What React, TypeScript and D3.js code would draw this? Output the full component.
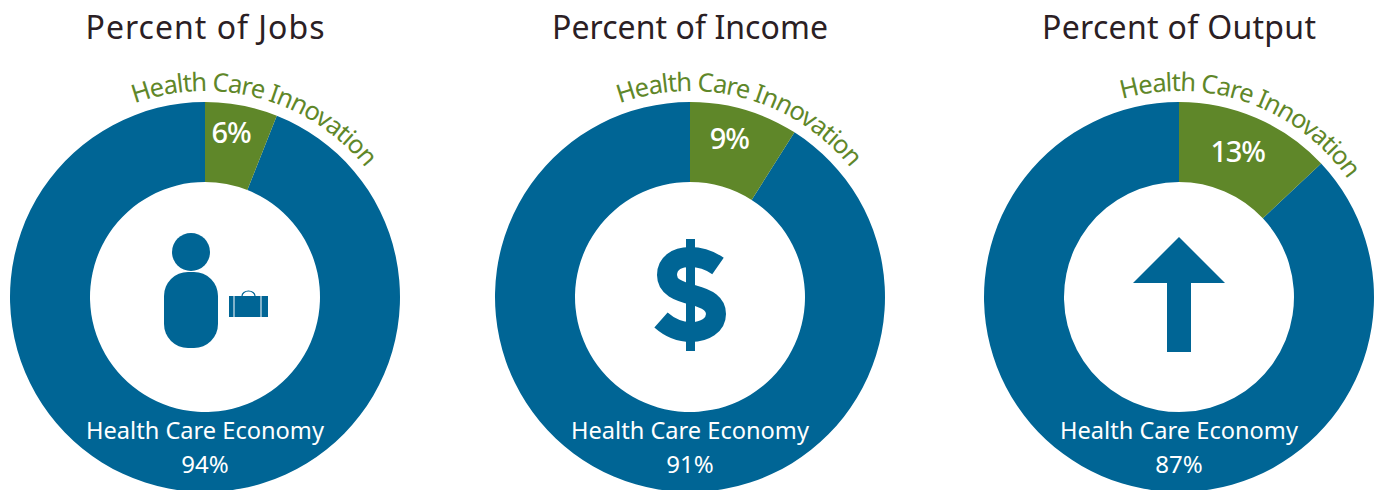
import React from "react";
import * as d3 from "d3";

const titles = ["Percent of Jobs", "Percent of Income", "Percent of Output"];
const innovationShare = [6, 9, 13];
const economyShare = [94, 91, 87];
const centers = [205, 690, 1179];
const innovationLabel = "Health Care Innovation";
const economyLabel = "Health Care Economy";

// Set widths for the headings, so the three columns keep their proportions.
const titleWidths = [239, 276, 274];
// Where each curved label begins on its ring, in degrees clockwise from twelve o'clock.
const curveStartDeg = [-20, -20, -16];
// Fine placement of the white percentages relative to the slice centroid.
const shareNudgeX = [-3, -4, -3];
const shareNudgeY = [-2, 1, 7];

const BLUE = "#006595";
const GREEN = "#5f8729";
const INK = "#2b2024";
const FONT = "'Noto Sans', Lato, sans-serif";
const cy = 297;
const outerR = 195;
const innerR = 115;
const curveR = 206;

const pie = d3.pie<number>().sort(null);
const arc = d3.arc<d3.PieArcDatum<number>>().innerRadius(innerR).outerRadius(outerR);

function labelPath(r: number, startDeg: number) {
  const start = ((startDeg - 90) * Math.PI) / 180;
  const p = d3.path();
  p.arc(0, 0, r, start, start + 1.6);
  return p.toString();
}

function JobsIcon() {
  return (
    <g fill={BLUE}>
      <circle cx={-14} cy={-45} r={19} />
      <rect x={-41} y={-25} width={54} height={76} rx={24} />
      <path d="M24 -1h4.500v21h-4.500z M29.500 -1h26v21h-26z M56.500 -1h6.500v21h-6.500z" />
      <path d="M37 -1a6.500 5 0 0 1 13 0" fill="none" stroke={BLUE} strokeWidth={1.2} />
    </g>
  );
}

function IncomeIcon() {
  return (
    <g>
      <rect x={-4} y={-58} width={9} height={112} fill={BLUE} />
      <path
        d="M28 -31 C18 -38 10 -40 0 -40 C-14 -40 -23 -33 -23 -22 C-23 -10 -12 -6 3 -2 C18 2 26 7 26 17 C26 28 15 35 1 35 C-10 35 -20 31 -29 23"
        fill="none"
        stroke={BLUE}
        strokeWidth={20}
      />
    </g>
  );
}

function OutputIcon() {
  return <path d="M0 -60 L46 -14 L12 -14 L12 55 L-12 55 L-12 -14 L-46 -14 Z" fill={BLUE} />;
}

const icons = [JobsIcon, IncomeIcon, OutputIcon];

export default function App() {
  return (
    <svg width={1377} height={490} viewBox="0 0 1377 490" style={{ position: "absolute", left: 0, top: 0, background: "#fff" }} fontFamily={FONT}>
      {centers.map((cx, i) => {
        const arcs = pie([innovationShare[i], economyShare[i]]);
        const Icon = icons[i];
        const [lx, ly] = arc.centroid(arcs[0]);
        return (
          <g key={titles[i]} transform={`translate(${cx},${cy})`}>
            <text x={0} y={-258} textAnchor="middle" fontSize={32} fill={INK} textLength={titleWidths[i]} lengthAdjust="spacing">{titles[i]}</text>
            <path d={arc(arcs[1])!} fill={BLUE} />
            <path d={arc(arcs[0])!} fill={GREEN} />
            <path id={`lbl${i}`} d={labelPath(curveR, curveStartDeg[i])} fill="none" />
            <text fontSize={25.5} fill={GREEN}>
              <textPath href={`#lbl${i}`} textLength={256} lengthAdjust="spacing">{innovationLabel}</textPath>
            </text>
            <text x={lx + shareNudgeX[i]} y={ly + shareNudgeY[i]} textAnchor="middle" fontSize={29} fontWeight={500} letterSpacing={-1.2} fill="#fff">{innovationShare[i]}%</text>
            <text x={0} y={142} textAnchor="middle" fontSize={23.6} fill="#fff">{economyLabel}</text>
            <text x={0} y={176} textAnchor="middle" fontSize={24} fill="#fff">{economyShare[i]}%</text>
            <Icon />
          </g>
        );
      })}
    </svg>
  );
}
